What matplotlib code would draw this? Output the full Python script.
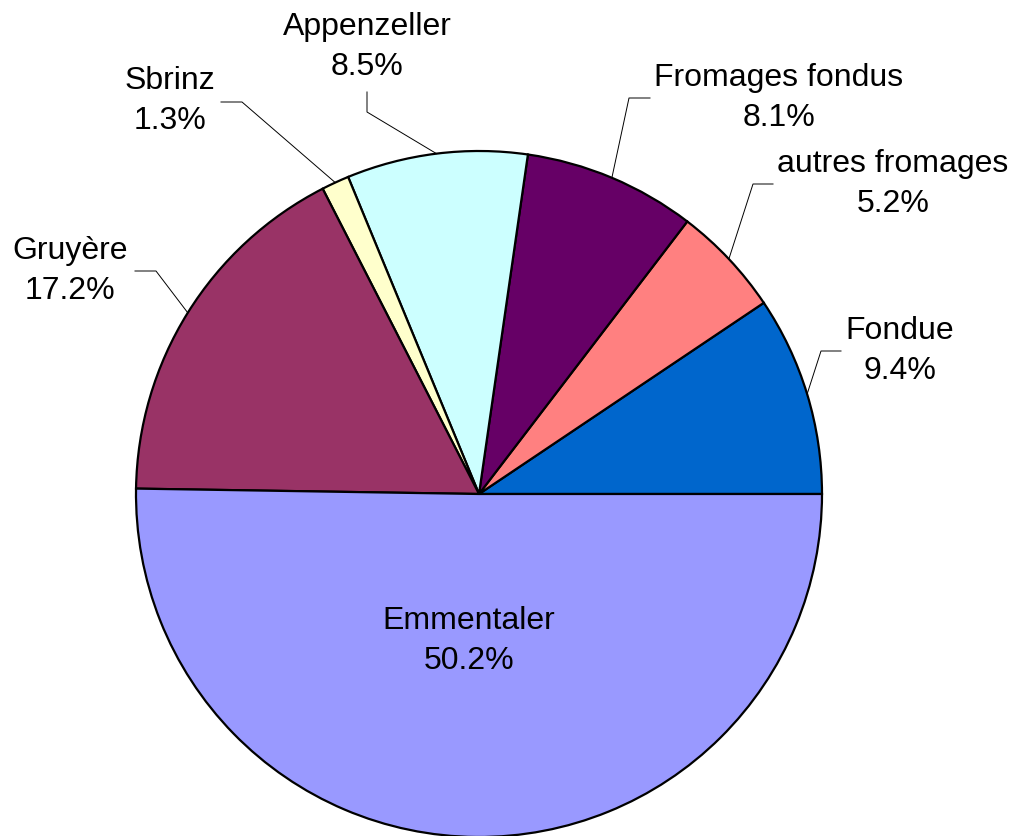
import numpy as np
import matplotlib
matplotlib.use("Agg")
import matplotlib.pyplot as plt

plt.rcParams['font.family'] = ['Liberation Sans', 'DejaVu Sans']

labels = ["Fondue", "autres fromages", "Fromages fondus", "Appenzeller", "Sbrinz", "Gruyère", "Emmentaler"]
values = [9.4, 5.2, 8.1, 8.5, 1.3, 17.2, 50.2]
pct_labels = ["9.4%", "5.2%", "8.1%", "8.5%", "1.3%", "17.2%", "50.2%"]
colors = ["#0066CC", "#FF8080", "#660066", "#CCFFFF", "#FFFFCC", "#993366", "#9999FF"]

W, H = 1017, 836
fig = plt.figure(figsize=(W / 100, H / 100), dpi=100)
cx, cy, R = 479, 494, 343
ax = fig.add_axes([(cx - R) / W, (H - cy - R) / H, 2 * R / W, 2 * R / H])

wedges, _ = ax.pie(values, colors=colors, startangle=0, counterclock=True, radius=1,
                   wedgeprops=dict(edgecolor='black', linewidth=1.6))
ax.set_xlim(-1, 1)
ax.set_ylim(-1, 1)
ax.set_aspect('equal')
ax.axis('off')
for w in wedges:
    w.set_clip_on(False)

def px(x, y):
    return ((x - cx) / R, (cy - y) / R)

# label layout (pixel positions): text centre, elbow start, elbow corner
layout = {
    "Fondue": ((900, 351), (841, 351), (821, 351)),
    "autres fromages": ((893, 184), (773, 184), (753, 184)),
    "Fromages fondus": ((779, 98), (650, 98), (629, 98)),
    "Appenzeller": ((367, 47), (367, 92), (367, 112)),
    "Sbrinz": ((170, 101), (221, 102), (242, 102)),
    "Gruyère": ((70, 271), (135, 271), (156, 271)),
}

fs = 23
ls = 1.4
for w, lab, pct in zip(wedges, labels, pct_labels):
    ang = np.deg2rad((w.theta1 + w.theta2) / 2)
    ex, ey = np.cos(ang), np.sin(ang)
    if lab in layout:
        (tx, ty), p1, p2 = layout[lab]
        a = px(*p1); b = px(*p2)
        ax.plot([a[0], b[0], ex], [a[1], b[1], ey], color='black', lw=0.7, clip_on=False)
        t = px(tx, ty)
        ax.text(t[0], t[1], f"{lab}\n{pct}", ha='center', va='center', fontsize=fs,
                linespacing=ls, clip_on=False)
    else:
        t = px(469, 641)
        ax.text(t[0], t[1], f"{lab}\n{pct}", ha='center', va='center', fontsize=fs,
                linespacing=ls)

fig.savefig("out.png", dpi=100)
